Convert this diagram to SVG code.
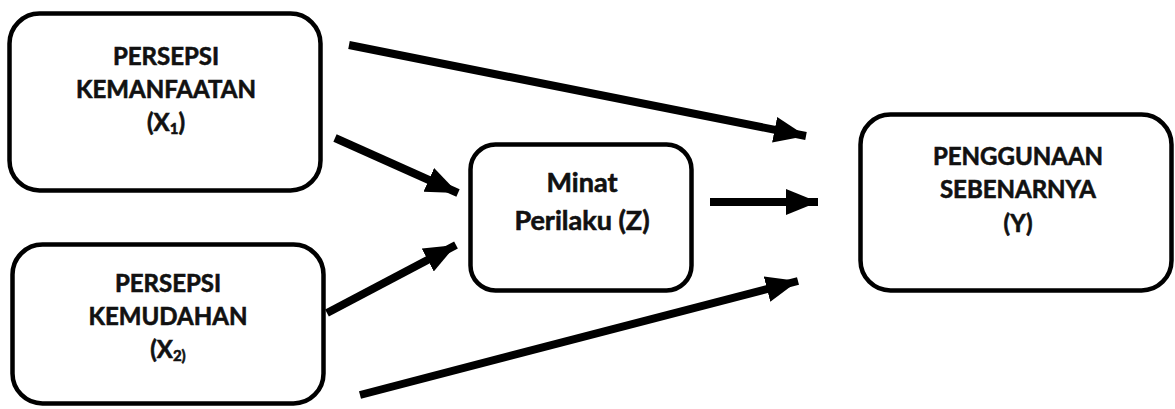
<svg xmlns="http://www.w3.org/2000/svg" width="1175" height="409" viewBox="0 0 1175 409">
<style>
.box{fill:#fff;stroke:#000;stroke-width:4.5}
.t{font-family:Lato,"Liberation Sans",sans-serif;font-weight:bold;font-size:24px;fill:#111;stroke:#111;stroke-width:0.6;text-anchor:middle}
.big{font-size:27px}
.sub{font-size:15px}
.c{stroke:#000;stroke-width:8;fill:none}
</style>
<defs>
<marker id="ah" markerUnits="userSpaceOnUse" markerWidth="34" markerHeight="28" refX="32" refY="13" orient="auto">
<path d="M0,0 L32,13 L0,26 Z" fill="#000"/>
</marker>
</defs>
<g id="connectors">
<line class="c" x1="349" y1="45" x2="806" y2="136" marker-end="url(#ah)"/>
<line class="c" x1="335" y1="138" x2="458" y2="193" marker-end="url(#ah)"/>
<line class="c" x1="327" y1="313" x2="456" y2="245" marker-end="url(#ah)"/>
<line class="c" x1="710" y1="202" x2="818" y2="202" marker-end="url(#ah)"/>
<line class="c" x1="360" y1="395" x2="798" y2="281" marker-end="url(#ah)"/>
</g>
<g id="x1">
<rect class="box" x="9.5" y="13.5" width="311" height="177" rx="30"/>
<text class="t" x="166" y="65">PERSEPSI</text>
<text class="t" x="166" y="98">KEMANFAATAN</text>
<text class="t" x="166" y="131">(X<tspan class="sub" dy="3">1</tspan><tspan dy="-3">)</tspan></text>
</g>
<g id="x2">
<rect class="box" x="12.5" y="244.5" width="311" height="159" rx="30"/>
<text class="t" x="168" y="292">PERSEPSI</text>
<text class="t" x="168" y="325">KEMUDAHAN</text>
<text class="t" x="168" y="358">(X<tspan class="sub" dy="3">2)</tspan></text>
</g>
<g id="z">
<rect class="box" x="470.5" y="144.5" width="221" height="146" rx="25"/>
<text class="t big" x="582" y="192">Minat</text>
<text class="t big" x="582" y="230">Perilaku (Z)</text>
</g>
<g id="y">
<rect class="box" x="860.5" y="114.5" width="311" height="176" rx="30"/>
<text class="t" x="1018" y="165">PENGGUNAAN</text>
<text class="t" x="1018" y="198">SEBENARNYA</text>
<text class="t" x="1018" y="232">(Y)</text>
</g>
</svg>
